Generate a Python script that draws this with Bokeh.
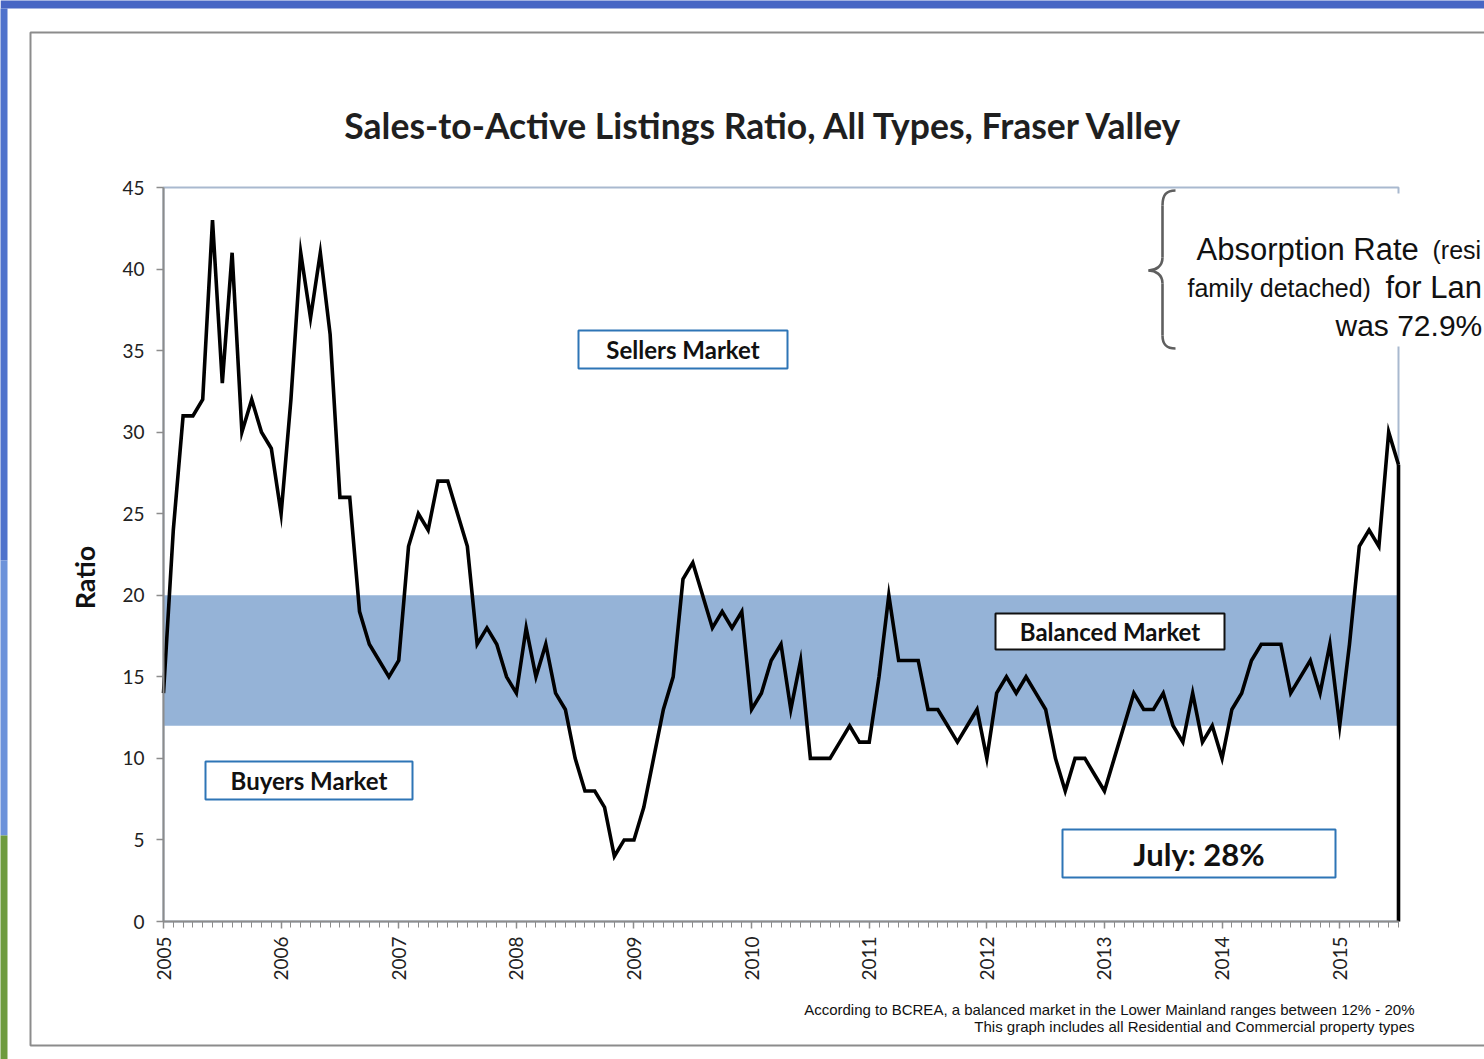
import math
from bokeh.plotting import figure
from bokeh.models import Label, BoxAnnotation, FixedTicker, Range1d, LinearAxis
from bokeh.embed import file_html
from bokeh.resources import INLINE

# ---------------- data ----------------
start_year = 2005
ratio = [
    14, 24, 31, 31, 32, 43, 33, 41, 30, 32, 30, 29,   # 2005
    25, 32, 41, 37, 41, 36, 26, 26, 19, 17, 16, 15,   # 2006
    16, 23, 25, 24, 27, 27, 25, 23, 17, 18, 17, 15,   # 2007
    14, 18, 15, 17, 14, 13, 10, 8, 8, 7, 4, 5,        # 2008
    5, 7, 10, 13, 15, 21, 22, 20, 18, 19, 18, 19,     # 2009
    13, 14, 16, 17, 13, 16, 10, 10, 10, 11, 12, 11,   # 2010
    11, 15, 20, 16, 16, 16, 13, 13, 12, 11, 12, 13,   # 2011
    10, 14, 15, 14, 15, 14, 13, 10, 8, 10, 10, 9,     # 2012
    8, 10, 12, 14, 13, 13, 14, 12, 11, 14, 11, 12,    # 2013
    10, 13, 14, 16, 17, 17, 17, 14, 15, 16, 14, 17,   # 2014
    12, 17, 23, 24, 23, 30, 28,                       # 2015 (Jan-Jul)
]
year_ticks = list(range(2005, 2016))
y_ticks = [0, 5, 10, 15, 20, 25, 30, 35, 40, 45]
y_max = 45
balanced_low, balanced_high = 12, 20

months = [start_year + i / 12 for i in range(len(ratio))]
x_end = months[-1]

# ---------------- layout (page pixels) ----------------
W, H = 1484, 1059
FRAME_L, FRAME_R, FRAME_T, FRAME_B = 163, 1398, 187, 921
px_per_x = (FRAME_R - FRAME_L) / (x_end - start_year)
px_per_y = (FRAME_B - FRAME_T) / y_max


def dx(px):
    return start_year + (px - FRAME_L) / px_per_x


def dy(py):
    return (FRAME_B - py) / px_per_y


p = figure(width=W, height=H, output_backend="svg", toolbar_location=None,
           x_range=Range1d(dx(0), dx(W)), y_range=Range1d(dy(H), dy(0)),
           x_axis_location=None, y_axis_location=None, min_border=0)
p.min_border_left = p.min_border_right = p.min_border_top = p.min_border_bottom = 0
p.background_fill_color = "white"
p.border_fill_color = "white"
p.outline_line_color = None
p.xgrid.grid_line_color = None
p.ygrid.grid_line_color = None

CAL = "Lato"
ARIAL = "Liberation Sans"
TXT = "#111111"

# slide background strips and frame
p.add_layout(BoxAnnotation(left=dx(0), right=dx(W + 50), top=dy(-10), bottom=dy(8),
                           fill_color="#4766C4", fill_alpha=1, line_color=None, level="underlay"))
p.add_layout(BoxAnnotation(left=dx(-10), right=dx(7), top=dy(8), bottom=dy(560),
                           fill_color="#4F72CC", fill_alpha=1, line_color=None, level="underlay"))
p.add_layout(BoxAnnotation(left=dx(-10), right=dx(7), top=dy(560), bottom=dy(835),
                           fill_color="#6C92DA", fill_alpha=1, line_color=None, level="underlay"))
p.add_layout(BoxAnnotation(left=dx(-10), right=dx(7), top=dy(835), bottom=dy(H + 10),
                           fill_color="#6E9B3E", fill_alpha=1, line_color=None, level="underlay"))
p.add_layout(BoxAnnotation(left=dx(30), right=dx(W + 100), top=dy(32), bottom=dy(1045),
                           fill_color=None, fill_alpha=0, line_color="#8C8C8C", line_alpha=1,
                           line_width=2, level="underlay"))

# plot frame border (top/right visible)
p.add_layout(BoxAnnotation(left=start_year, right=x_end, top=y_max, bottom=0, fill_color=None,
                           fill_alpha=0, line_color="#A9B9CF", line_alpha=1, line_width=2,
                           level="underlay"))

# balanced band
p.add_layout(BoxAnnotation(left=start_year, right=x_end, bottom=balanced_low, top=balanced_high,
                           fill_color="#95B3D7", fill_alpha=1, line_color=None, level="underlay"))

# axes
xaxis = LinearAxis(fixed_location=0, bounds=(start_year, x_end))
xaxis.ticker = FixedTicker(ticks=year_ticks, minor_ticks=months)
xaxis.major_label_overrides = {y: str(y) for y in year_ticks}
xaxis.major_label_orientation = math.pi / 2
yaxis = LinearAxis(fixed_location=start_year, bounds=(0, y_max))
yaxis.ticker = FixedTicker(ticks=y_ticks)
for ax in (xaxis, yaxis):
    ax.axis_line_color = "#8C8C8C"
    ax.axis_line_width = 2
    ax.major_tick_line_color = "#8C8C8C"
    ax.major_tick_line_width = 1.5
    ax.minor_tick_line_color = "#8C8C8C"
    ax.minor_tick_line_width = 1
    ax.major_label_text_font = CAL
    ax.major_label_text_font_size = "19px"
    ax.major_label_text_color = "#222222"
    ax.major_tick_in = 0
    ax.major_tick_out = 7
xaxis.minor_tick_out = 6
xaxis.minor_tick_in = 0
xaxis.major_label_standoff = 8
yaxis.minor_tick_line_color = None
yaxis.major_label_standoff = 12
p.add_layout(xaxis, "below")
p.add_layout(yaxis, "left")

p.add_layout(Label(x=dx(84), y=dy(577), text="Ratio", angle=math.pi / 2, text_font=CAL,
                   text_font_style="bold", text_font_size="27px", text_color=TXT,
                   text_align="center", text_baseline="middle"))

# data line
p.line(months, ratio, line_color="black", line_width=3.6, line_join="miter")
p.segment(x0=[x_end], y0=[0], x1=[x_end], y1=[ratio[-1]], line_color="black", line_width=3.6)

# title
p.add_layout(Label(x=dx(764), y=dy(125), text="Sales-to-Active Listings Ratio, All Types, Fraser Valley",
                   text_font=CAL, text_font_style="bold", text_font_size="35.5px", text_color="#1F1F1F",
                   text_align="center", text_baseline="middle"))

# market boxes (page-pixel rectangles)
boxes = [
    (578, 787, 330, 368, "#2E75B6", "Sellers Market", "24px"),
    (995, 1224, 613, 649, "#111111", "Balanced Market", "24px"),
    (205, 412, 761, 799, "#2E75B6", "Buyers Market", "24px"),
    (1062, 1335, 829, 877, "#2E75B6", "July: 28%", "31px"),
]
for l, r, t, b, col, txt, fs in boxes:
    p.add_layout(BoxAnnotation(left=dx(l), right=dx(r), top=dy(t), bottom=dy(b), fill_color="white",
                               fill_alpha=1, line_color=col, line_alpha=1, line_width=2))
    p.add_layout(Label(x=dx((l + r) / 2), y=dy((t + b) / 2), text=txt, text_font=CAL,
                       text_font_style="bold", text_font_size=fs, text_color=TXT,
                       text_align="center", text_baseline="middle"))

# callout brace
segs = [  # (start, c0, c1, end) in page px
    ((1175, 190), (1166, 190), (1162, 194), (1162, 205)),
    ((1162, 257), (1162, 266), (1155, 270), (1148, 270)),
    ((1148, 270), (1155, 270), (1162, 274), (1162, 283)),
    ((1162, 335), (1162, 344), (1166, 348), (1175, 348)),
]
p.bezier(x0=[dx(s[0][0]) for s in segs], y0=[dy(s[0][1]) for s in segs],
         x1=[dx(s[3][0]) for s in segs], y1=[dy(s[3][1]) for s in segs],
         cx0=[dx(s[1][0]) for s in segs], cy0=[dy(s[1][1]) for s in segs],
         cx1=[dx(s[2][0]) for s in segs], cy1=[dy(s[2][1]) for s in segs],
         line_color="#5F5F5F", line_width=2.6)
p.segment(x0=[dx(1162), dx(1162)], y0=[dy(205), dy(283)], x1=[dx(1162), dx(1162)],
          y1=[dy(257), dy(335)], line_color="#5F5F5F", line_width=2.6)

# white backing of callout text
p.add_layout(BoxAnnotation(left=dx(1180), right=dx(W + 50), top=dy(193), bottom=dy(346),
                           fill_color="white", fill_alpha=1, line_color=None, level="overlay"))
callout = [
    (1196, 249, "Absorption Rate", "31px"),
    (1432, 249, "(resi", "25px"),
    (1187, 287, "family detached)", "25px"),
    (1385, 287, "for Lan", "31px"),
    (1335, 325, "was 72.9%", "30px"),
]
for x, y, txt, fs in callout:
    p.add_layout(Label(x=dx(x), y=dy(y), text=txt, text_font=ARIAL, text_font_size=fs, text_color=TXT,
                       text_align="left", text_baseline="alphabetic", level="overlay"))

# footnote
p.add_layout(Label(x=dx(1414), y=dy(1009),
                   text="According to BCREA, a balanced market in the Lower Mainland ranges between 12% - 20%",
                   text_font=ARIAL, text_font_size="15px", text_color=TXT,
                   text_align="right", text_baseline="middle"))
p.add_layout(Label(x=dx(1414), y=dy(1026),
                   text="This graph includes all Residential and Commercial property types",
                   text_font=ARIAL, text_font_size="15px", text_color=TXT,
                   text_align="right", text_baseline="middle"))

open("out.html", "w").write(file_html(p, INLINE))
